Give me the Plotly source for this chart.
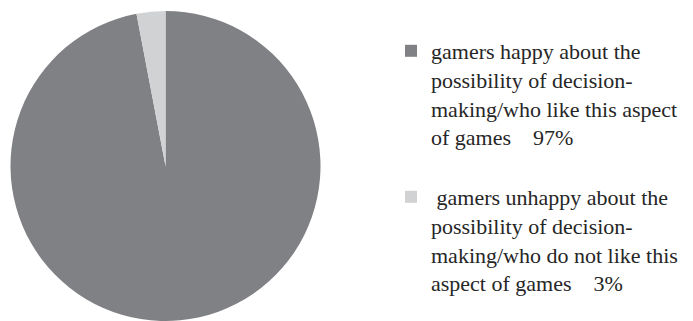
import plotly.graph_objects as go

labels = [
    "gamers happy about the<br>possibility of decision-<br>making/who like this aspect<br>of games&nbsp;&nbsp;&nbsp;&nbsp;97%<br> ",
    "&nbsp;gamers unhappy about the<br>possibility of decision-<br>making/who do not like this<br>aspect of games&nbsp;&nbsp;&nbsp;&nbsp;3%",
]
values = [97, 3]
colors = ["#808184", "#d1d2d4"]

fig = go.Figure(go.Pie(
    labels=labels,
    values=values,
    marker=dict(colors=colors, line=dict(width=0)),
    sort=False,
    direction="clockwise",
    rotation=0,
    textinfo="none",
    hoverinfo="none",
    domain=dict(x=[9/693, 322/693], y=[0, 310/321]),
))

fig.update_layout(
    width=693, height=321,
    margin=dict(l=0, r=0, t=0, b=0, autoexpand=False),
    paper_bgcolor="white",
    showlegend=True,
    legend=dict(
        x=391/693, xanchor="left",
        y=1 - 30/321, yanchor="top",
        valign="top",
        font=dict(family="Liberation Serif", size=22, color="#262626"),
        bgcolor="rgba(0,0,0,0)",
        itemclick=False, itemdoubleclick=False,
        tracegroupgap=0,
    ),
)

fig.write_html("out.html")
